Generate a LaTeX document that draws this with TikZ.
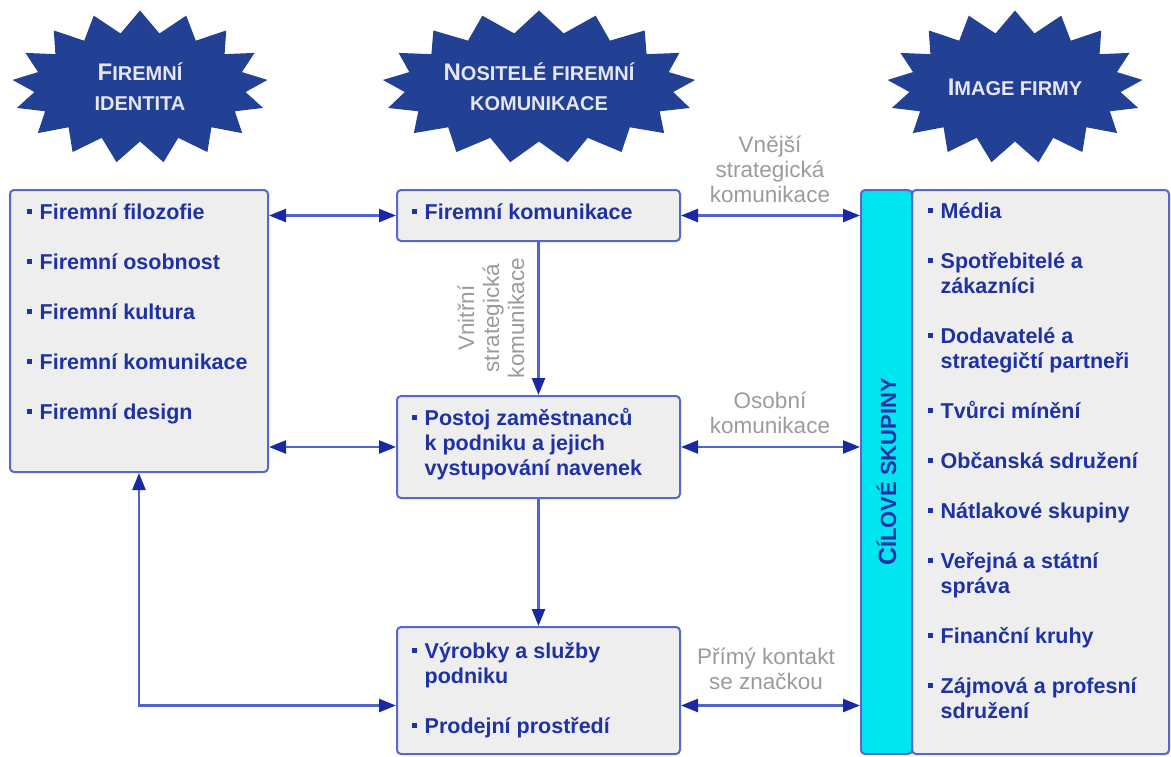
\documentclass[tikz,border=0pt]{standalone}
\usepackage{fontspec}
\setmainfont{Liberation Sans}
\usetikzlibrary{shapes.symbols,arrows.meta}

\definecolor{starblue}{RGB}{34,64,148}
\definecolor{startext}{RGB}{230,230,238}
\definecolor{boxfill}{RGB}{238,238,238}
\definecolor{boxline}{RGB}{85,105,205}
\definecolor{txtblue}{RGB}{30,50,165}
\definecolor{notegray}{RGB}{155,155,155}
\definecolor{barcyan}{RGB}{0,230,240}
\definecolor{linkblue}{RGB}{80,100,205}
\definecolor{tipblue}{RGB}{25,40,165}

% small square bullet
\newcommand\bul{\textcolor{txtblue}{\rule[5.5pt]{4.5pt}{4.5pt}}}
% enlarged first letter for the small-caps headings
\newcommand\firstcap[1]{{\fontsize{24}{30}\selectfont #1}}

\begin{document}
\begin{tikzpicture}[x=1pt,y=-1pt]
\tikzset{
  hd/.tip={Triangle[length=17pt,width=13pt,color=tipblue,fill=tipblue]},
  box/.style={draw=boxline, line width=2pt, fill=boxfill, rounded corners=4pt, inner sep=0pt},
  star/.style={starburst, starburst points=17, starburst point height=22pt,
    random starburst=0, fill=starblue, draw=none, inner sep=0pt, text=startext,
    align=center, font=\bfseries\fontsize{20}{30}\selectfont},
  items/.style={anchor=base west, inner sep=0pt, text=txtblue,
    font=\bfseries\fontsize{21.5}{25}\selectfont},
  note/.style={inner sep=0pt, text=notegray, font=\fontsize{22.5}{25}\selectfont},
  link/.style={draw=linkblue, line width=2.5pt, hd-hd},
  flow/.style={draw=linkblue, line width=2.5pt, -hd},
}
\useasboundingbox (0,0) rectangle (1171,756);

% headings
\node[star, minimum width=256pt, minimum height=153pt] (sid) at (140,87)
  {\firstcap{F}IREMNÍ\\IDENTITA};
\node[star, minimum width=282pt, minimum height=153pt] (snos) at (539,87)
  {\firstcap{N}OSITELÉ FIREMNÍ\\KOMUNIKACE};
\node[star, minimum width=256pt, minimum height=153pt] (simg) at (1015,87)
  {\firstcap{I}MAGE FIRMY};

% boxes
\node[box, minimum width=258pt, minimum height=282pt] (fid) at (139,331) {};
\node[box, minimum width=283pt, minimum height=51pt] (kom) at (538.5,215.5) {};
\node[box, minimum width=283pt, minimum height=102pt] (post) at (538.5,447) {};
\node[box, minimum width=283pt, minimum height=127pt] (vyr) at (538.5,690.5) {};
\node[box, minimum width=257pt, minimum height=564pt] (img) at (1040.5,472) {};
\node[box, fill=barcyan, minimum width=51pt, minimum height=564pt, text=txtblue,
  font=\bfseries\fontsize{22}{25}\selectfont] (cil) at (886.5,472)
  {\rotatebox{90}{{\fontsize{25}{25}\selectfont C}ÍLOVÉ SKUPINY}};

% box contents
\node[items] (fidtext) at (27,219) {\begin{tabular}[t]{@{}l@{\hspace{8pt}}l@{}}
  \bul & Firemní filozofie\\[25pt]
  \bul & Firemní osobnost\\[25pt]
  \bul & Firemní kultura\\[25pt]
  \bul & Firemní komunikace\\[25pt]
  \bul & Firemní design
\end{tabular}};
\node[items] (komtext) at (412,219) {\begin{tabular}[t]{@{}l@{\hspace{8pt}}l@{}}
  \bul & Firemní komunikace
\end{tabular}};
\node[items] (posttext) at (412,425) {\begin{tabular}[t]{@{}l@{\hspace{8pt}}l@{}}
  \bul & Postoj zaměstnanců\\
       & k podniku a jejich\\
       & vystupování navenek
\end{tabular}};
\node[items] (vyrtext) at (412,658) {\begin{tabular}[t]{@{}l@{\hspace{8pt}}l@{}}
  \bul & Výrobky a služby\\
       & podniku\\[25pt]
  \bul & Prodejní prostředí
\end{tabular}};
\node[items] (imgtext) at (928,218) {\begin{tabular}[t]{@{}l@{\hspace{8pt}}l@{}}
  \bul & Média\\[25pt]
  \bul & Spotřebitelé a\\
       & zákazníci\\[25pt]
  \bul & Dodavatelé a\\
       & strategičtí partneři\\[25pt]
  \bul & Tvůrci mínění\\[25pt]
  \bul & Občanská sdružení\\[25pt]
  \bul & Nátlakové skupiny\\[25pt]
  \bul & Veřejná a státní\\
       & správa\\[25pt]
  \bul & Finanční kruhy\\[25pt]
  \bul & Zájmová a profesní\\
       & sdružení
\end{tabular}};

% connector labels
\node[note, anchor=base] (nvne) at (770,152) {\begin{tabular}[t]{@{}c@{}}
  Vnější\\ strategická\\ komunikace\end{tabular}};
\node[note, anchor=base] (noso) at (770,408) {\begin{tabular}[t]{@{}c@{}}
  Osobní\\ komunikace\end{tabular}};
\node[note, anchor=base] (nprim) at (766,664) {\begin{tabular}[t]{@{}c@{}}
  Přímý kontakt\\ se značkou\end{tabular}};
\node[note, rotate=90] (nvni) at (494,318) {\begin{tabular}{@{}c@{}}
  Vnitřní\\ strategická\\ komunikace\end{tabular}};

% connectors
\draw[link] (kom.west -| fid.east) -- (kom.west);
\draw[link] (post.west -| fid.east) -- (post.west);
\draw[link] (kom.east) -- (kom.east -| cil.west);
\draw[link] (post.east) -- (post.east -| cil.west);
\coordinate (vyrR) at ([yshift=-15pt]vyr.east);
\coordinate (vyrL) at ([yshift=-15pt]vyr.west);
\draw[link] (vyrR) -- (vyrR -| cil.west);
\draw[link] (vyrL) -| (fid.south);
\draw[flow] (kom.south) -- (post.north);
\draw[flow] (post.south) -- (vyr.north);
\end{tikzpicture}
\end{document}
